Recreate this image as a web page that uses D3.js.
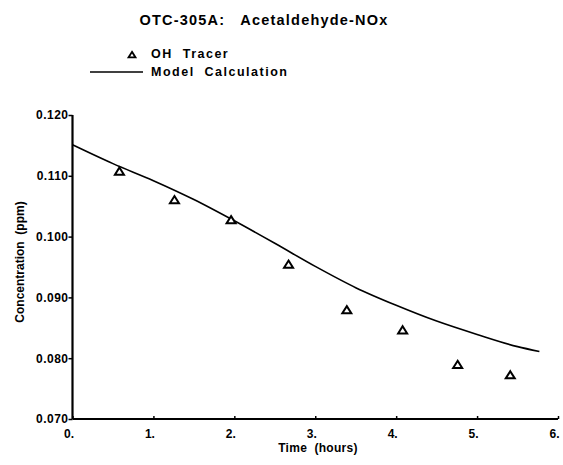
<!DOCTYPE html>
<html>
<head>
<meta charset="utf-8">
<script src="https://cdn.jsdelivr.net/npm/d3@7"></script>
<style>
  body { margin: 0; background: #fff; }
  text { font-family: "Liberation Sans", Arial, sans-serif; font-weight: bold; fill: #000; }
</style>
</head>
<body>
<script>
// measured points (OH tracer)
var tracerTime = [0.58, 1.26, 1.96, 2.67, 3.39, 4.08, 4.76, 5.41];
var tracerConc = [0.1107, 0.1060, 0.1027, 0.0954, 0.0879, 0.0846, 0.0789, 0.0772];

// model curve
var modelTime = [0, 0.5, 1.0, 1.5, 2.0, 2.5, 3.0, 3.5, 4.0, 4.5, 5.0, 5.5, 5.77];
var modelConc = [0.1151, 0.1120, 0.1092, 0.1061, 0.1026, 0.0989, 0.0951, 0.0916, 0.0887, 0.0861, 0.0839, 0.0819, 0.0811];

var xTicks = [0, 1, 2, 3, 4, 5, 6];
var yTicks = [0.070, 0.080, 0.090, 0.100, 0.110, 0.120];

var titleText = "OTC-305A:   Acetaldehyde-NOx";
var legendLabels = ["OH  Tracer", "Model  Calculation"];

drawChart();

function drawChart(){

    var width = 563,
        height = 465;

    var svg = d3.select('body')
        .append('svg')
        .attr('width', width)
        .attr('height', height);

    //plot area
    var x = d3.scaleLinear().domain([0, 6]).range([72.5, 558]);
    var y = d3.scaleLinear().domain([0.070, 0.120]).range([419, 115]);

    //small flat hollow triangle marker
    function triangle(s){
        return 'M0,' + (-s * 0.45) + 'L' + (s * 0.5) + ',' + (s * 0.35) + 'L' + (-s * 0.5) + ',' + (s * 0.35) + 'Z';
    }

    //title
    svg.append('text')
        .attr('x', 264)
        .attr('y', 25)
        .attr('text-anchor', 'middle')
        .attr('xml:space', 'preserve')
        .style('font-size', '14.5px')
        .style('letter-spacing', '1.2px')
        .text(titleText);

    //legend
    svg.append('path')
        .attr('d', triangle(7))
        .attr('transform', 'translate(132,55)')
        .attr('fill', '#fff')
        .attr('stroke', '#000')
        .attr('stroke-width', 1.8);
    svg.append('text')
        .attr('x', 151).attr('y', 58)
        .attr('xml:space', 'preserve')
        .style('font-size', '12.5px')
        .style('letter-spacing', '1.5px')
        .text(legendLabels[0]);
    svg.append('line')
        .attr('x1', 90).attr('x2', 143)
        .attr('y1', 72).attr('y2', 72)
        .attr('stroke', '#000').attr('stroke-width', 1.5);
    svg.append('text')
        .attr('x', 151).attr('y', 76)
        .attr('xml:space', 'preserve')
        .style('font-size', '12.5px')
        .style('letter-spacing', '1.5px')
        .text(legendLabels[1]);

    //axes
    var xAxis = d3.axisBottom(x)
        .tickValues(xTicks)
        .tickSize(-3)
        .tickFormat(function(d){ return d + "."; });
    var gx = svg.append('g')
        .attr('transform', 'translate(0,' + y(0.070) + ')')
        .call(xAxis);
    gx.select('.domain').attr('stroke-width', 2.2).attr('d', 'M' + x(0) + ',0H' + x(6));
    gx.selectAll('.tick line').attr('stroke-width', 1.5);
    gx.selectAll('.tick text')
        .attr('text-anchor', 'end')
        .attr('dx', 1)
        .attr('y', 10)
        .attr('dy', '0.71em')
        .style('font-size', '12px');

    var yAxis = d3.axisLeft(y)
        .tickValues(yTicks)
        .tickSize(4)
        .tickFormat(d3.format('.3f'));
    var gy = svg.append('g')
        .attr('transform', 'translate(' + x(0) + ',0)')
        .call(yAxis);
    gy.select('.domain').attr('stroke-width', 2.2).attr('d', 'M0,' + y(0.070) + 'V' + y(0.120));
    gy.selectAll('.tick line').attr('stroke-width', 1.5);
    gy.selectAll('.tick text')
        .attr('x', -4)
        .style('font-size', '12px')
        .style('letter-spacing', '0.5px');

    //axis titles
    svg.append('text')
        .attr('x', 318).attr('y', 452)
        .attr('text-anchor', 'middle')
        .attr('xml:space', 'preserve')
        .style('font-size', '12px')
        .style('letter-spacing', '0.3px')
        .text('Time  (hours)');
    svg.append('text')
        .attr('transform', 'translate(24,262) rotate(-90)')
        .attr('text-anchor', 'middle')
        .attr('xml:space', 'preserve')
        .style('font-size', '12px')
        .text('Concentration  (ppm)');

    //model line
    var model = modelTime.map(function(t, i){ return [t, modelConc[i]]; });
    var line = d3.line()
        .x(function(d){ return x(d[0]); })
        .y(function(d){ return y(d[1]); })
        .curve(d3.curveMonotoneX);
    svg.append('path')
        .datum(model)
        .attr('d', line)
        .attr('fill', 'none')
        .attr('stroke', '#000')
        .attr('stroke-width', 1.6);

    //tracer points
    var tracer = tracerTime.map(function(t, i){ return [t, tracerConc[i]]; });
    svg.selectAll('.tracer')
        .data(tracer)
        .enter()
        .append('path')
        .attr('class', 'tracer')
        .attr('d', triangle(9))
        .attr('transform', function(d){ return 'translate(' + x(d[0]) + ',' + y(d[1]) + ')'; })
        .attr('fill', '#fff')
        .attr('stroke', '#000')
        .attr('stroke-width', 2);
};
</script>
</body>
</html>
